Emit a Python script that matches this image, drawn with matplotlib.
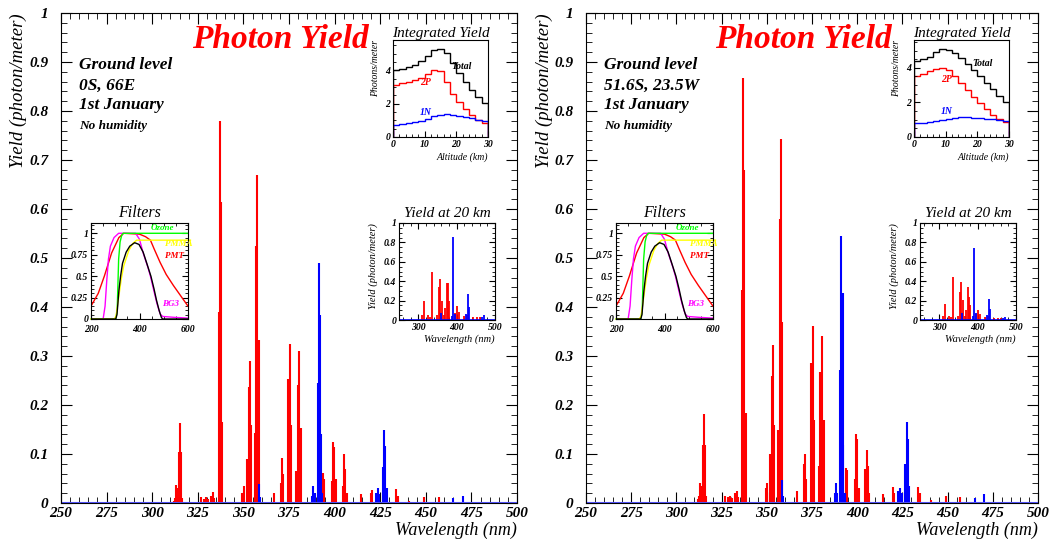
import matplotlib
matplotlib.use("Agg")
import matplotlib.pyplot as plt
from matplotlib.ticker import MultipleLocator, FuncFormatter

plt.rcParams["font.family"] = "Liberation Serif"
plt.rcParams["font.weight"] = "bold"
plt.rcParams["font.style"] = "italic"

# ---- spectrum at ground level, N2 2P (red) and N2+ 1N (blue) lines (nm, photon/meter)
wl_2p = [311.7, 312.4, 313.3, 313.9, 314.6, 315.1, 315.7, 316.5,
         327.0, 328.3, 329.7, 330.6, 332.5, 333.4, 334.0,
         336.5, 337.0, 337.5, 338.3, 345.2,
         349.4, 350.3, 352.0, 352.8, 353.4, 354.0,
         356.2, 357.1, 357.7, 358.3, 366.6,
         370.4, 371.3, 371.9, 374.5, 375.3, 376.3,
         379.0, 379.7, 380.4, 381.4,
         393.6, 394.3, 398.7, 399.3, 399.9, 400.9,
         404.5, 405.2, 405.9, 406.7, 414.2, 419.7, 420.4,
         433.7, 434.6, 440.7, 442.1, 448.9, 457.1]
y_2p_a = [0.005, 0.01, 0.037, 0.03, 0.105, 0.163, 0.105, 0.01,
          0.013, 0.008, 0.013, 0.008, 0.015, 0.023, 0.01,
          0.39, 0.78, 0.615, 0.165, 0.003,
          0.02, 0.035, 0.09, 0.236, 0.29, 0.16,
          0.143, 0.525, 0.669, 0.333, 0.02,
          0.04, 0.092, 0.06, 0.254, 0.324, 0.16,
          0.066, 0.241, 0.31, 0.153,
          0.061, 0.05, 0.045, 0.125, 0.115, 0.05,
          0.035, 0.1, 0.07, 0.02, 0.018, 0.02, 0.027,
          0.028, 0.015, 0.005, 0.003, 0.013, 0.013]
y_2p_b = [0.008, 0.015, 0.04, 0.035, 0.118, 0.182, 0.118, 0.015,
          0.015, 0.012, 0.015, 0.01, 0.02, 0.025, 0.012,
          0.435, 0.868, 0.68, 0.184, 0.003,
          0.03, 0.04, 0.099, 0.26, 0.322, 0.16,
          0.15, 0.58, 0.742, 0.37, 0.025,
          0.08, 0.1, 0.05, 0.285, 0.361, 0.17,
          0.075, 0.268, 0.341, 0.17,
          0.072, 0.068, 0.05, 0.14, 0.13, 0.03,
          0.07, 0.109, 0.075, 0.02, 0.018, 0.032, 0.02,
          0.033, 0.02, 0.006, 0.003, 0.015, 0.012]
wl_1n = [358.4, 358.9, 387.6, 388.3, 389.0, 390.7, 391.3, 391.9, 392.4, 393.0,
         422.8, 423.7, 424.6, 426.4, 427.3, 427.9, 428.6, 465.1, 470.2]
y_1n_a = [0.038, 0.012, 0.015, 0.035, 0.02, 0.244, 0.489, 0.384, 0.14, 0.02,
          0.02, 0.03, 0.018, 0.074, 0.149, 0.117, 0.03, 0.01, 0.015]
y_1n_b = [0.046, 0.015, 0.02, 0.04, 0.02, 0.271, 0.545, 0.428, 0.118, 0.02,
          0.025, 0.03, 0.02, 0.08, 0.166, 0.13, 0.035, 0.01, 0.018]

# ---- yield at 20 km
wl20_2p = [310, 315, 326, 331, 337, 348, 353, 358, 361, 367, 370, 374, 377.5, 381,
           396, 400.5, 407, 418, 426, 443, 452, 461]
y20_2p_a = [0.05, 0.197, 0.05, 0.03, 0.5, 0.05, 0.345, 0.42, 0.2, 0.05, 0.12, 0.38, 0.38, 0.2,
            0.07, 0.145, 0.08, 0.04, 0.05, 0.03, 0.03, 0.03]
y20_2p_b = [0.04, 0.165, 0.04, 0.03, 0.44, 0.04, 0.29, 0.39, 0.21, 0.04, 0.1, 0.34, 0.24, 0.15,
            0.06, 0.1, 0.06, 0.03, 0.04, 0.02, 0.02, 0.02]
wl20_1n = [359, 388, 391.5, 395, 425, 428.5, 431, 466, 471]
y20_1n_a = [0.076, 0.04, 0.86, 0.06, 0.06, 0.27, 0.13, 0.03, 0.05]
y20_1n_b = [0.07, 0.04, 0.74, 0.07, 0.05, 0.22, 0.11, 0.02, 0.03]

# ---- integrated yield vs altitude (2 km bins)
alt_edges = list(range(0, 32, 2))
tot_a = [4.04, 4.1, 4.2, 4.35, 4.55, 4.85, 5.2, 5.3, 5.05, 4.45, 3.85, 3.3, 2.8, 2.4, 2.05]
p2_a = [3.15, 3.22, 3.3, 3.42, 3.55, 3.8, 4.0, 3.95, 3.3, 2.6, 2.1, 1.7, 1.35, 1.05, 0.85]
n1_a = [0.74, 0.78, 0.84, 0.9, 0.97, 1.1, 1.25, 1.35, 1.36, 1.32, 1.26, 1.2, 1.12, 1.05, 0.98]
tot_b = [4.42, 4.5, 4.65, 4.9, 5.1, 5.05, 4.85, 4.55, 4.25, 3.9, 3.5, 3.15, 2.8, 2.4, 2.0]
p2_b = [3.52, 3.62, 3.8, 3.95, 4.0, 3.85, 3.55, 3.1, 2.7, 2.3, 1.95, 1.6, 1.3, 1.05, 0.87]
n1_b = [0.79, 0.83, 0.88, 0.93, 0.98, 1.03, 1.08, 1.13, 1.15, 1.12, 1.08, 1.05, 1.02, 0.99, 0.95]

# ---- filter transmissions
pmt_wl = [200, 230, 255, 285, 315, 335, 400, 425, 445, 460, 485, 510, 540, 570, 600]
pmt_t = [0.15, 0.3, 0.5, 0.77, 0.95, 1.0, 0.99, 0.96, 0.92, 0.82, 0.66, 0.52, 0.39, 0.27, 0.15]
bg3_wl = [200, 250, 258, 265, 272, 280, 295, 314, 384, 400, 415, 435, 445, 460, 472, 485, 495, 540, 600]
bg3_t = [0, 0, 0.15, 0.45, 0.7, 0.85, 0.95, 1.0, 1.0, 0.93, 0.77, 0.6, 0.5, 0.32, 0.18, 0.06, 0.03, 0.02, 0.01]
ozone_wl = [200, 302, 308, 314, 320, 326, 332, 600]
ozone_t = [0, 0, 0.1, 0.7, 0.9, 0.97, 1.0, 1.0]
pmma_wl = [200, 295, 303, 314, 325, 335, 356, 372, 388, 610]
pmma_t = [0, 0, 0.03, 0.25, 0.47, 0.62, 0.8, 0.88, 0.92, 0.92]
tot_wl = [200, 302, 307, 310, 315, 322, 330, 345, 360, 380, 398, 415, 430, 447, 460, 470, 481, 490, 495, 600]
tot_t = [0, 0, 0.05, 0.15, 0.33, 0.5, 0.65, 0.78, 0.85, 0.89, 0.87, 0.78, 0.65, 0.5, 0.35, 0.22, 0.1, 0.02, 0, 0]

site_a = ["Ground level", "0S, 66E", "1st January", "No humidity"]
site_b = ["Ground level", "51.6S, 23.5W", "1st January", "No humidity"]

RED, BLUE = "#ff0000", "#0000ff"
W, H = 1063, 541


def rect(x0, y0, x1, y1):
    return [x0 / W, 1 - y1 / H, (x1 - x0) / W, (y1 - y0) / H]


def fmt(v, pos):
    return "%g" % v


def inset_ticks(ax, mirror=True):
    ax.tick_params(which="both", direction="in", top=mirror, right=mirror, labelsize=7, pad=2)
    ax.tick_params(which="major", length=4)
    ax.tick_params(which="minor", length=2)


def panel(x0, x1, y2p, y1n, y20p, y20n, tot, p2, n1, site):
    ax = fig.add_axes(rect(x0, 13, x1, 503))
    ax.vlines(wl_2p, 0, y2p, color=RED, lw=1.5)
    ax.vlines(wl_1n, 0, y1n, color=BLUE, lw=1.5)
    ax.plot([250, 500], [0, 0], color="#5555ff", lw=1.5)
    ax.set_xlim(250, 500)
    ax.set_ylim(0, 1)
    ax.xaxis.set_major_locator(MultipleLocator(25))
    ax.xaxis.set_minor_locator(MultipleLocator(5))
    ax.yaxis.set_major_locator(MultipleLocator(0.1))
    ax.yaxis.set_minor_locator(MultipleLocator(0.02))
    ax.yaxis.set_major_formatter(FuncFormatter(fmt))
    ax.tick_params(which="both", direction="in", top=True, right=True, labelsize=11)
    ax.tick_params(which="major", length=8)
    ax.tick_params(which="minor", length=4)
    ax.tick_params(axis="y", pad=9)
    ax.tick_params(axis="x", pad=3)
    ax.set_xlabel("Wavelength (nm)", fontsize=13, loc="right")
    ax.xaxis.set_label_coords(1.0, -0.039)
    ax.set_ylabel("Yield (photon/meter)", fontsize=13.5, loc="top")
    ax.yaxis.set_label_coords(-0.074, 1.0)
    ax.text(0.482, 0.945, "Photon Yield", color=RED, fontsize=24, ha="center", va="center",
            transform=ax.transAxes)
    ys = [0.894, 0.851, 0.812]
    for t, yy in zip(site[:3], ys):
        ax.text(0.04, yy, t, fontsize=12.5, va="center", transform=ax.transAxes)
    ax.text(0.04, 0.769, site[3], fontsize=9.5, va="center", transform=ax.transAxes)

    # integrated yield
    ix0 = x1 - 124
    ai = fig.add_axes(rect(ix0, 40, ix0 + 95, 137))
    ai.stairs(tot, alt_edges, baseline=0, color="black", lw=1)
    ai.stairs(p2, alt_edges, baseline=0, color=RED, lw=1)
    ai.stairs(n1, alt_edges, baseline=0, color=BLUE, lw=1)
    ai.set_xlim(0, 30)
    ai.set_ylim(0, 1.1 * max(tot))
    ai.xaxis.set_major_locator(MultipleLocator(10))
    ai.xaxis.set_minor_locator(MultipleLocator(2))
    ai.yaxis.set_major_locator(MultipleLocator(2))
    ai.yaxis.set_minor_locator(MultipleLocator(0.5))
    inset_ticks(ai, mirror=False)
    ai.text(21.7, 4.25, "Total", fontsize=7, ha="center", va="center")
    ai.text(10.2, 3.3, "2P", color=RED, fontsize=7, ha="center", va="center")
    ai.text(10.4, 1.48, "1N", color=BLUE, fontsize=7, ha="center", va="center")
    ai.set_title("Integrated Yield", fontsize=11, pad=2)
    ai.set_xlabel("Altitude (km)", fontsize=7, loc="right")
    ai.xaxis.set_label_coords(1.0, -0.16)
    ai.set_ylabel("Photons/meter", fontsize=7, loc="top")
    ai.yaxis.set_label_coords(-0.14, 1.0)

    # filters
    af = fig.add_axes(rect(x0 + 30, 223, x0 + 127, 319))
    af.plot(pmt_wl, pmt_t, color=RED, lw=1)
    af.plot(bg3_wl, bg3_t, color="#ff00ff", lw=1)
    af.plot(ozone_wl, ozone_t, color="#00ff00", lw=1, clip_on=False)
    af.plot(pmma_wl, pmma_t, color="#ffff00", lw=1, clip_on=False)
    af.plot(tot_wl, tot_t, color="black", lw=1)
    af.set_xlim(200, 600)
    af.set_ylim(0, 1.12)
    af.xaxis.set_major_locator(MultipleLocator(200))
    af.xaxis.set_minor_locator(MultipleLocator(50))
    af.yaxis.set_major_locator(MultipleLocator(0.25))
    af.yaxis.set_minor_locator(MultipleLocator(0.05))
    af.yaxis.set_major_formatter(FuncFormatter(fmt))
    inset_ticks(af)
    af.tick_params(axis="x", pad=4.5)
    af.text(447, 1.06, "Ozone", color="#00ff00", fontsize=6.5, va="center")
    af.text(505, 0.88, "PMMA", color="#ffff00", fontsize=6.5, va="center", clip_on=False)
    af.text(505, 0.73, "PMT", color=RED, fontsize=6.5, va="center")
    af.text(495, 0.17, "BG3", color="#ff00ff", fontsize=6.5, va="center")
    af.set_title("Filters", fontsize=11.5, pad=4)

    # yield at 20 km
    a20 = fig.add_axes(rect(x1 - 118, 223, x1 - 22, 320))
    a20.vlines(wl20_2p, 0, y20p, color=RED, lw=1.3)
    a20.vlines(wl20_1n, 0, y20n, color=BLUE, lw=1.3)
    a20.plot([250, 500], [0, 0], color=BLUE, lw=1.2)
    a20.set_xlim(250, 500)
    a20.set_ylim(0, 1)
    a20.xaxis.set_major_locator(MultipleLocator(100))
    a20.xaxis.set_minor_locator(MultipleLocator(20))
    a20.yaxis.set_major_locator(MultipleLocator(0.2))
    a20.yaxis.set_minor_locator(MultipleLocator(0.05))
    a20.yaxis.set_major_formatter(FuncFormatter(fmt))
    inset_ticks(a20)
    a20.set_title("Yield at 20 km", fontsize=11, pad=4)
    a20.set_xlabel("Wavelength (nm)", fontsize=7.5, loc="right")
    a20.xaxis.set_label_coords(1.0, -0.15)
    a20.set_ylabel("Yield (photon/meter)", fontsize=7.5, loc="top")
    a20.yaxis.set_label_coords(-0.22, 1.0)


fig = plt.figure(figsize=(W / 100, H / 100), dpi=100)
panel(61, 517, y_2p_a, y_1n_a, y20_2p_a, y20_1n_a, tot_a, p2_a, n1_a, site_a)
panel(586, 1038, y_2p_b, y_1n_b, y20_2p_b, y20_1n_b, tot_b, p2_b, n1_b, site_b)
fig.savefig("out.png", dpi=100)
